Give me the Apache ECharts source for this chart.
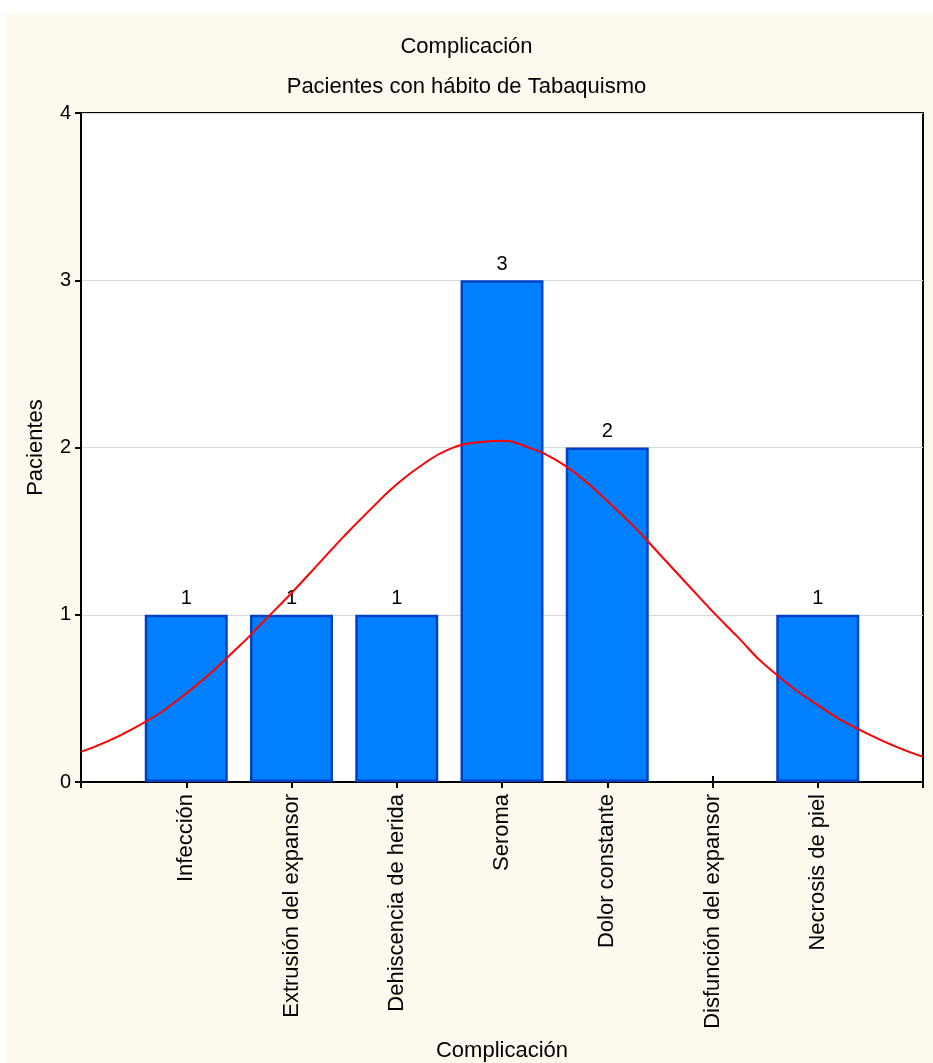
<!DOCTYPE html>
<html>
<head>
<meta charset="utf-8">
<script src="https://cdn.jsdelivr.net/npm/echarts@6/dist/echarts.min.js"></script>
<style>
  html, body { margin: 0; padding: 0; background: #ffffff; }
  #fondo { position: absolute; left: 6px; top: 13px; right: 0; bottom: 0; background: #fdf9ee; }
  #complicacion { position: absolute; left: 0; top: 0; width: 933px; height: 1063px; }
</style>
</head>
<body>
<div id="fondo"></div>
<div id="complicacion"></div>
<script>
// categorias y conteos
var categorias = ['Infección', 'Extrusión del expansor', 'Dehiscencia de herida', 'Seroma',
                  'Dolor constante', 'Disfunción del expansor', 'Necrosis de piel'];
var pacientes = [1, 1, 1, 3, 2, 0, 1];

// curva normal ajustada (leida a ojo del grafico)
var curvaX = [0, 0.5, 1, 1.5, 1.75, 2, 2.25, 2.5, 2.75, 3, 3.25, 3.5, 3.75, 4, 4.25, 4.5, 4.75,
              5, 5.25, 5.5, 5.75, 6, 6.25, 6.5, 7, 7.5, 8];
var curvaY = [0.18, 0.32, 0.53, 0.81, 0.97, 1.13, 1.30, 1.47, 1.63, 1.78, 1.90, 1.99, 2.03, 2.04, 2.00, 1.93, 1.82,
              1.68, 1.53, 1.36, 1.19, 1.02, 0.86, 0.70, 0.46, 0.28, 0.15];

var yTicks = [0, 1, 2, 3, 4];

var datosBarras = pacientes.map(function (v, i) { return [i + 1, v === 0 ? '-' : v]; });
var datosCurva = curvaX.map(function (x, i) { return [x, curvaY[i]]; });

var fuente = 'Liberation Sans, Arial, sans-serif';

var myChart_complicacion = echarts.init(document.getElementById('complicacion'));
var option_complicacion = {
    backgroundColor: 'transparent',
    textStyle: { fontFamily: fuente },
    title: [
        {
            text: 'Complicación',
            left: 'center',
            top: 31,
            textStyle: { fontSize: 22, fontWeight: 'normal', color: '#000', fontFamily: fuente }
        },
        {
            text: 'Pacientes con hábito de Tabaquismo',
            left: 'center',
            top: 71,
            textStyle: { fontSize: 22, fontWeight: 'normal', color: '#000', fontFamily: fuente }
        }
    ],
    grid: {
        left: 81,
        right: 10,
        top: 113,
        bottom: 281,
        outerBoundsMode: 'none',
        containLabel: false,
        show: true,
        backgroundColor: '#ffffff',
        borderColor: '#000',
        borderWidth: 2
    },
    xAxis: [
        {
            type: 'value',
            min: 0,
            max: categorias.length + 1,
            interval: 1,
            position: 'bottom',
            name: 'Complicación',
            nameLocation: 'middle',
            nameGap: 258,
            nameTextStyle: { fontSize: 22, color: '#000', fontFamily: fuente },
            axisLine: { show: true, lineStyle: { color: '#000', width: 2 } },
            axisTick: { show: true, inside: true, length: 6, lineStyle: { color: '#000', width: 2 } },
            splitLine: { show: false },
            axisLabel: {
                rotate: 90,
                fontSize: 22,
                color: '#000',
                margin: 12,
                formatter: function (v) { return categorias[v - 1] || ''; }
            }
        },
        {
            type: 'value',
            min: 0,
            max: categorias.length + 1,
            interval: 1,
            position: 'top',
            axisLine: { show: true, lineStyle: { color: '#000', width: 2 } },
            axisTick: { show: true, inside: true, length: 6, lineStyle: { color: '#000', width: 2 } },
            axisLabel: { show: false },
            splitLine: { show: false }
        }
    ],
    yAxis: [
        {
            type: 'value',
            min: yTicks[0],
            max: yTicks[yTicks.length - 1],
            interval: 1,
            position: 'left',
            name: 'Pacientes',
            nameLocation: 'middle',
            nameGap: 34,
            nameTextStyle: { fontSize: 22, color: '#000', fontFamily: fuente },
            axisLine: { show: true, lineStyle: { color: '#000', width: 2 } },
            axisTick: { show: true, inside: false, length: 6, lineStyle: { color: '#000', width: 2 } },
            axisLabel: { fontSize: 20, color: '#000', margin: 10 },
            splitLine: { show: true, lineStyle: { color: '#d9d9d9', width: 1 } }
        },
        {
            type: 'value',
            min: yTicks[0],
            max: yTicks[yTicks.length - 1],
            interval: 1,
            position: 'right',
            axisLine: { show: true, lineStyle: { color: '#000', width: 2 } },
            axisTick: { show: true, inside: true, length: 6, lineStyle: { color: '#000', width: 2 } },
            axisLabel: { show: false },
            splitLine: { show: false }
        }
    ],
    series: [
        {
            name: 'Pacientes',
            type: 'bar',
            barWidth: 83,
            data: datosBarras,
            itemStyle: {
                color: '#0080ff',
                borderColor: '#0040c4',
                borderWidth: 2.5
            },
            label: {
                show: true,
                position: 'top',
                distance: 6,
                fontSize: 20,
                color: '#000',
                formatter: function (p) { return p.value[1]; }
            },
            z: 2
        },
        {
            name: 'Normal',
            type: 'line',
            smooth: 0.5,
            showSymbol: false,
            data: datosCurva,
            lineStyle: { color: '#ff0000', width: 2 },
            itemStyle: { color: '#ff0000' },
            z: 3
        }
    ]
};

myChart_complicacion.setOption(option_complicacion);
</script>
</body>
</html>
